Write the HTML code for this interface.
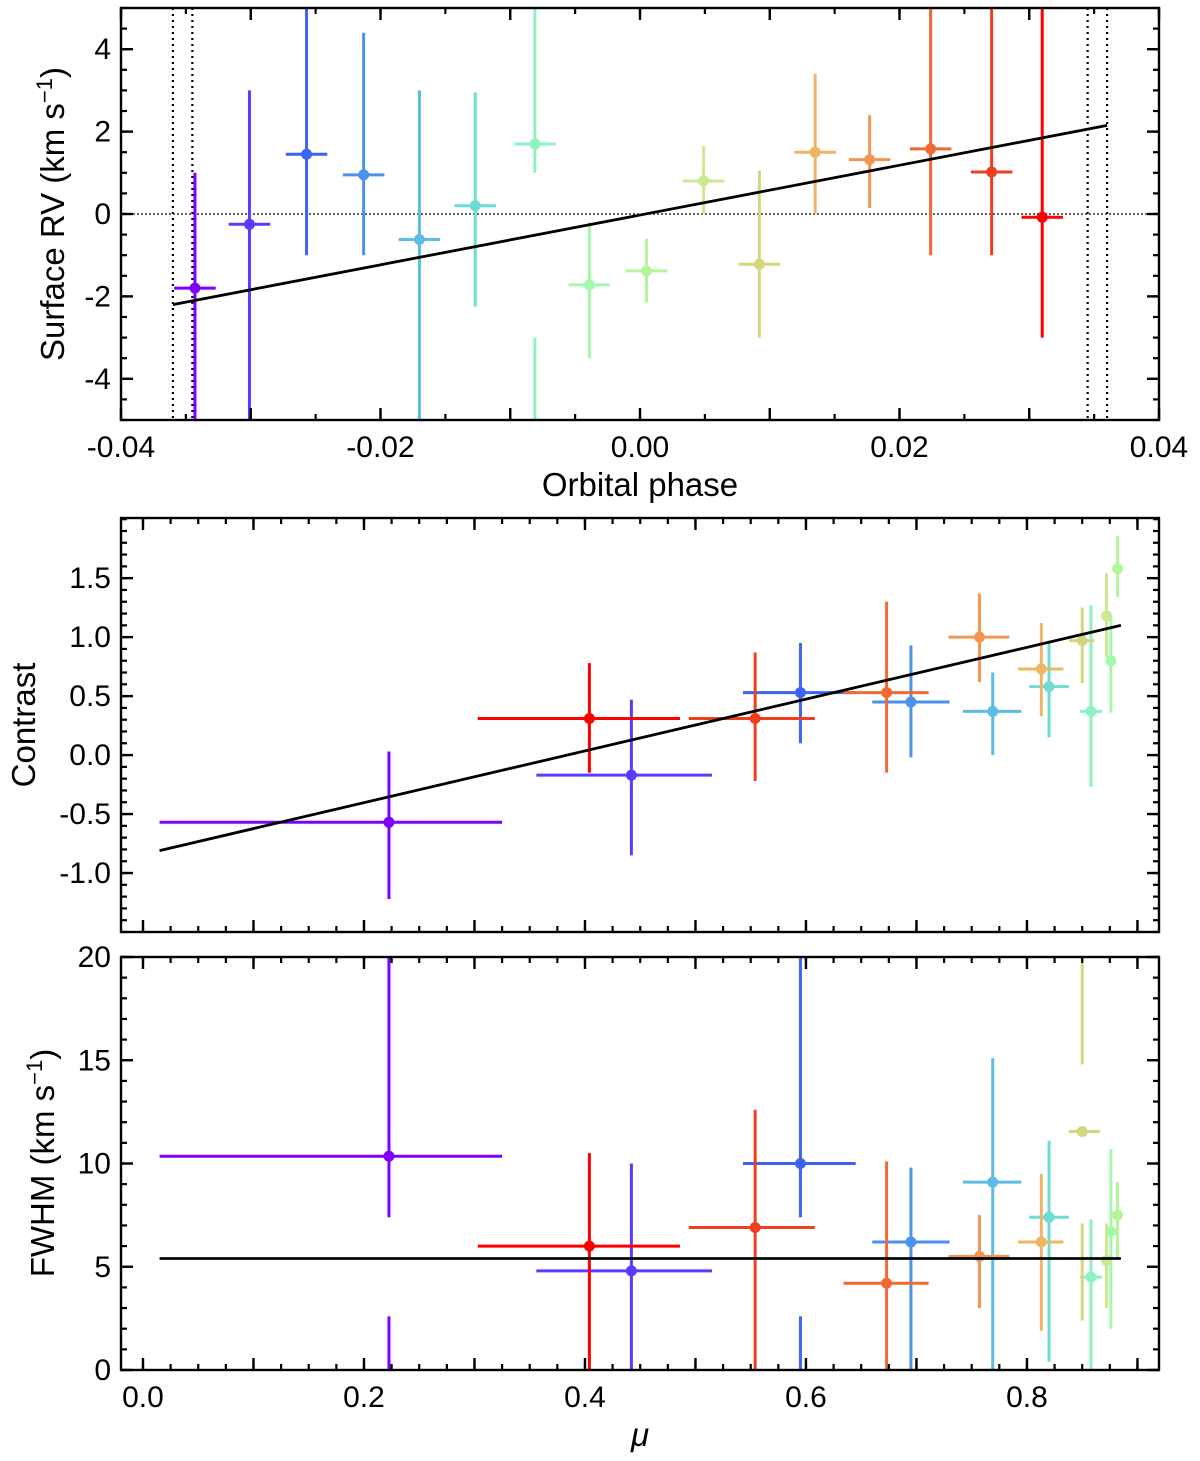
<!DOCTYPE html>
<html><head><meta charset="utf-8"><style>
body{margin:0;background:#fff;}
svg{display:block;font-family:"Liberation Sans",sans-serif;}
</style></head><body>
<svg id="c" width="1200" height="1461"></svg>
<script>
const colors=['#8000ff','#5b3bff','#3d63f2','#4a92ee','#5cbce4','#6ddcd6','#8cf2c2','#a4f8ac','#b6f49c','#cce990','#d4d67c','#ecb664','#f29652','#f06a34','#ee3f1e','#ff0000'];
const phase=[-0.0343,-0.0301,-0.0257,-0.0213,-0.0170,-0.0127,-0.0081,-0.0039,0.0005,0.0049,0.0092,0.0135,0.0177,0.0224,0.0271,0.0310];
const rv=[-1.8,-0.25,1.45,0.95,-0.62,0.2,1.7,-1.72,-1.38,0.8,-1.22,1.5,1.32,1.58,1.02,-0.08];
const rvLo=[-5,-5,-1,-1,-5,-2.25,1.0,-3.5,-2.15,0,-3.0,0,0.15,-1.0,-1.0,-3.0];
const rvHi=[1.0,3.0,5,4.4,3.0,2.95,5,-0.2,-0.6,1.65,1.05,3.4,2.4,5,5,5];
const phaseErr=0.0016;
const rvExtra=[[6,-5,-3]];
const mu=[0.2226,0.442,0.595,0.695,0.769,0.820,0.858,0.876,0.882,0.872,0.850,0.813,0.757,0.673,0.554,0.404];
const muLo=[0.015,0.356,0.543,0.660,0.742,0.802,0.848,0.872,0.878,0.868,0.838,0.792,0.729,0.634,0.494,0.303];
const muHi=[0.325,0.515,0.645,0.730,0.795,0.838,0.868,0.880,0.886,0.876,0.861,0.833,0.784,0.711,0.608,0.486];
const con=[-0.57,-0.17,0.53,0.45,0.37,0.58,0.37,0.8,1.58,1.18,0.97,0.73,1.0,0.53,0.31,0.31];
const conLo=[-1.22,-0.85,0.1,-0.02,0,0.15,-0.27,0.36,1.34,0.83,0.61,0.33,0.62,-0.15,-0.22,-0.15];
const conHi=[0.03,0.47,0.95,0.93,0.7,0.97,1.27,1.17,1.86,1.54,1.25,1.12,1.37,1.3,0.87,0.78];
const fw=[10.35,4.8,10.0,6.2,9.1,7.4,4.5,6.7,7.5,5.3,11.55,6.2,5.5,4.2,6.9,6.0];
const fwLo=[7.4,0,7.4,0,0,0.4,0,2.0,5.4,3.0,14.8,1.9,3.0,0,0,0];
const fwHi=[20,10,20,9.8,15.1,11.1,7.3,10.7,9.1,7.1,20,9.5,7.5,10.1,12.6,10.5];
const fwExtra=[[0,0,2.6],[2,0,2.6],[10,2.4,7.1]];
const rvFit=[[-0.036,-2.2],[0.036,2.15]];
const conFit=[[0.015,-0.81],[0.885,1.1]];
const fwFit=[[0.015,5.4],[0.885,5.4]];

const svg=document.getElementById('c');
const NS='http://www.w3.org/2000/svg';
function mk(t,a,p){const e=document.createElementNS(NS,t);for(const k in a)e.setAttribute(k,a[k]);(p||svg).appendChild(e);return e;}
function panel(name,x0,x1,y0,y1,xmin,xmax,ymin,ymax){
  const g=mk('g',{});
  
  
  return {g,X:v=>x0+(v-xmin)/(xmax-xmin)*(x1-x0),Y:v=>y1-(v-ymin)/(ymax-ymin)*(y1-y0),x0,x1,y0,y1};
}
function axes(P,xt,xminor,xlab,yt,yminor,ylab,fmtx,fmty,labX){
  const g=P.g;
  for(const v of xminor){const x=P.X(v);mk('line',{x1:x,x2:x,y1:P.y1,y2:P.y1-6,stroke:'#000','stroke-width':2.2},g);mk('line',{x1:x,x2:x,y1:P.y0,y2:P.y0+6,stroke:'#000','stroke-width':2.2},g);}
  for(const v of xt){const x=P.X(v);mk('line',{x1:x,x2:x,y1:P.y1,y2:P.y1-12,stroke:'#000','stroke-width':2.4},g);mk('line',{x1:x,x2:x,y1:P.y0,y2:P.y0+12,stroke:'#000','stroke-width':2.4},g);}
  for(const v of yminor){const y=P.Y(v);mk('line',{x1:P.x0,x2:P.x0+6,y1:y,y2:y,stroke:'#000','stroke-width':2.2},g);mk('line',{x1:P.x1,x2:P.x1-6,y1:y,y2:y,stroke:'#000','stroke-width':2.2},g);}
  for(const v of yt){const y=P.Y(v);mk('line',{x1:P.x0,x2:P.x0+12,y1:y,y2:y,stroke:'#000','stroke-width':2.4},g);mk('line',{x1:P.x1,x2:P.x1-12,y1:y,y2:y,stroke:'#000','stroke-width':2.4},g);
    const t=mk('text',{x:P.x0-10,y:y+10,'text-anchor':'end','font-size':30},g);t.textContent=fmty(v);
    
    }
  if(labX)for(const v of labX){const t=mk('text',{x:P.X(v),y:P.y1+37,'text-anchor':'middle','font-size':30},g);t.textContent=fmtx(v);
    
    }
  mk('rect',{x:P.x0,y:P.y0,width:P.x1-P.x0,height:P.y1-P.y0,fill:'none',stroke:'#000','stroke-width':2.4},g);
}
function range(a,b,s){const r=[];for(let v=a;v<=b+1e-9;v+=s)r.push(+v.toFixed(6));return r;}
function clamp(v,a,b){return Math.max(a,Math.min(b,v));}
function points(P,xs,ys,lo,hi,xl,xh,extra,ymin,ymax,nm){
  for(let i=0;i<xs.length;i++){
    const c=colors[i];
    const x=P.X(xs[i]),y=P.Y(ys[i]);
    const eb=mk('line',{x1:x,x2:x,y1:P.Y(clamp(lo[i],ymin,ymax)),y2:P.Y(clamp(hi[i],ymin,ymax)),stroke:c,'stroke-width':3},P.g);
    
    
    const xe=mk('line',{x1:P.X(xl[i]),x2:P.X(xh[i]),y1:y,y2:y,stroke:c,'stroke-width':3},P.g);
    
    
    const d=mk('circle',{cx:x,cy:y,r:5.5,fill:c},P.g);
    
    
  }
  for(const e of extra){const x=P.X(xs[e[0]]);const l=mk('line',{x1:x,x2:x,y1:P.Y(e[1]),y2:P.Y(e[2]),stroke:colors[e[0]],'stroke-width':3},P.g);
    
    }
}
function fit(P,f,nm){const l=mk('line',{x1:P.X(f[0][0]),y1:P.Y(f[0][1]),x2:P.X(f[1][0]),y2:P.Y(f[1][1]),stroke:'#000','stroke-width':2.8},P.g);
  
  }
function ylabel(x,y,txt,sup,after,name){const t=mk('text',{transform:`translate(${x},${y}) rotate(-90)`,'text-anchor':'middle','font-size':33});
  
  
  t.textContent=txt;if(sup){const s=mk('tspan',{dy:-12,'font-size':22},t);s.textContent=sup;const a=mk('tspan',{dy:12},t);a.textContent=after;}}

// Panel 1
const P1=panel('rv-panel',121,1159,8,420,-0.04,0.04,-5,5);
[-0.036,-0.0345,0.0345,0.036].forEach(v=>{const l=mk('line',{x1:P1.X(v),x2:P1.X(v),y1:P1.y0,y2:P1.y1,stroke:'#000','stroke-width':2.2,'stroke-dasharray':'2,4'},P1.g);});
mk('line',{x1:P1.x0,x2:P1.x1,y1:P1.Y(0),y2:P1.Y(0),stroke:'#000','stroke-width':1.2,'stroke-dasharray':'2,2'},P1.g);
points(P1,phase,rv,rvLo,rvHi,phase.map(v=>v-phaseErr),phase.map(v=>v+phaseErr),rvExtra,-5,5,'rv');
fit(P1,rvFit,'rv-fit-line');
axes(P1,range(-0.04,0.04,0.01),range(-0.04,0.04,0.005),'',range(-4,4,2),range(-5,5,0.5),'',v=>v.toFixed(2),v=>String(v),range(-0.04,0.04,0.02));
const xl1=mk('text',{x:640,y:496,'text-anchor':'middle','font-size':33});xl1.textContent='Orbital phase';


ylabel(64,214,'Surface RV (km s','−1',')','y-axis-title-rv');

// Panel 2
const P2=panel('contrast-panel',121,1159,518,932,-0.0199,0.9195,-1.5,2.01);
points(P2,mu,con,conLo,conHi,muLo,muHi,[],-1.5,2.01,'contrast');
fit(P2,conFit,'contrast-fit-line');
axes(P2,range(0,0.9,0.1),range(0,0.9,0.025),'',range(-1,1.5,0.5),range(-1.5,2.0,0.1),'',v=>v.toFixed(1),v=>v.toFixed(1),null);
ylabel(35,725,'Contrast',null,null,'y-axis-title-contrast');

// Panel 3
const P3=panel('fwhm-panel',121,1159,957,1370,-0.0199,0.9195,0,20);
points(P3,mu,fw,fwLo,fwHi,muLo,muHi.map((v,i)=>i==10?0.866:v),fwExtra,0,20,'fwhm');
fit(P3,fwFit,'fwhm-fit-line');
axes(P3,range(0,0.9,0.1),range(0,0.9,0.025),'',range(0,20,5),range(0,20,1),'',v=>v.toFixed(1),v=>String(v),range(0,0.8,0.2));
ylabel(54,1163,'FWHM (km s','−1',')','y-axis-title-fwhm');
const xl3=mk('text',{x:640,y:1446,'text-anchor':'middle','font-size':33,'font-style':'italic'});xl3.textContent='μ';


</script>
</body></html>
